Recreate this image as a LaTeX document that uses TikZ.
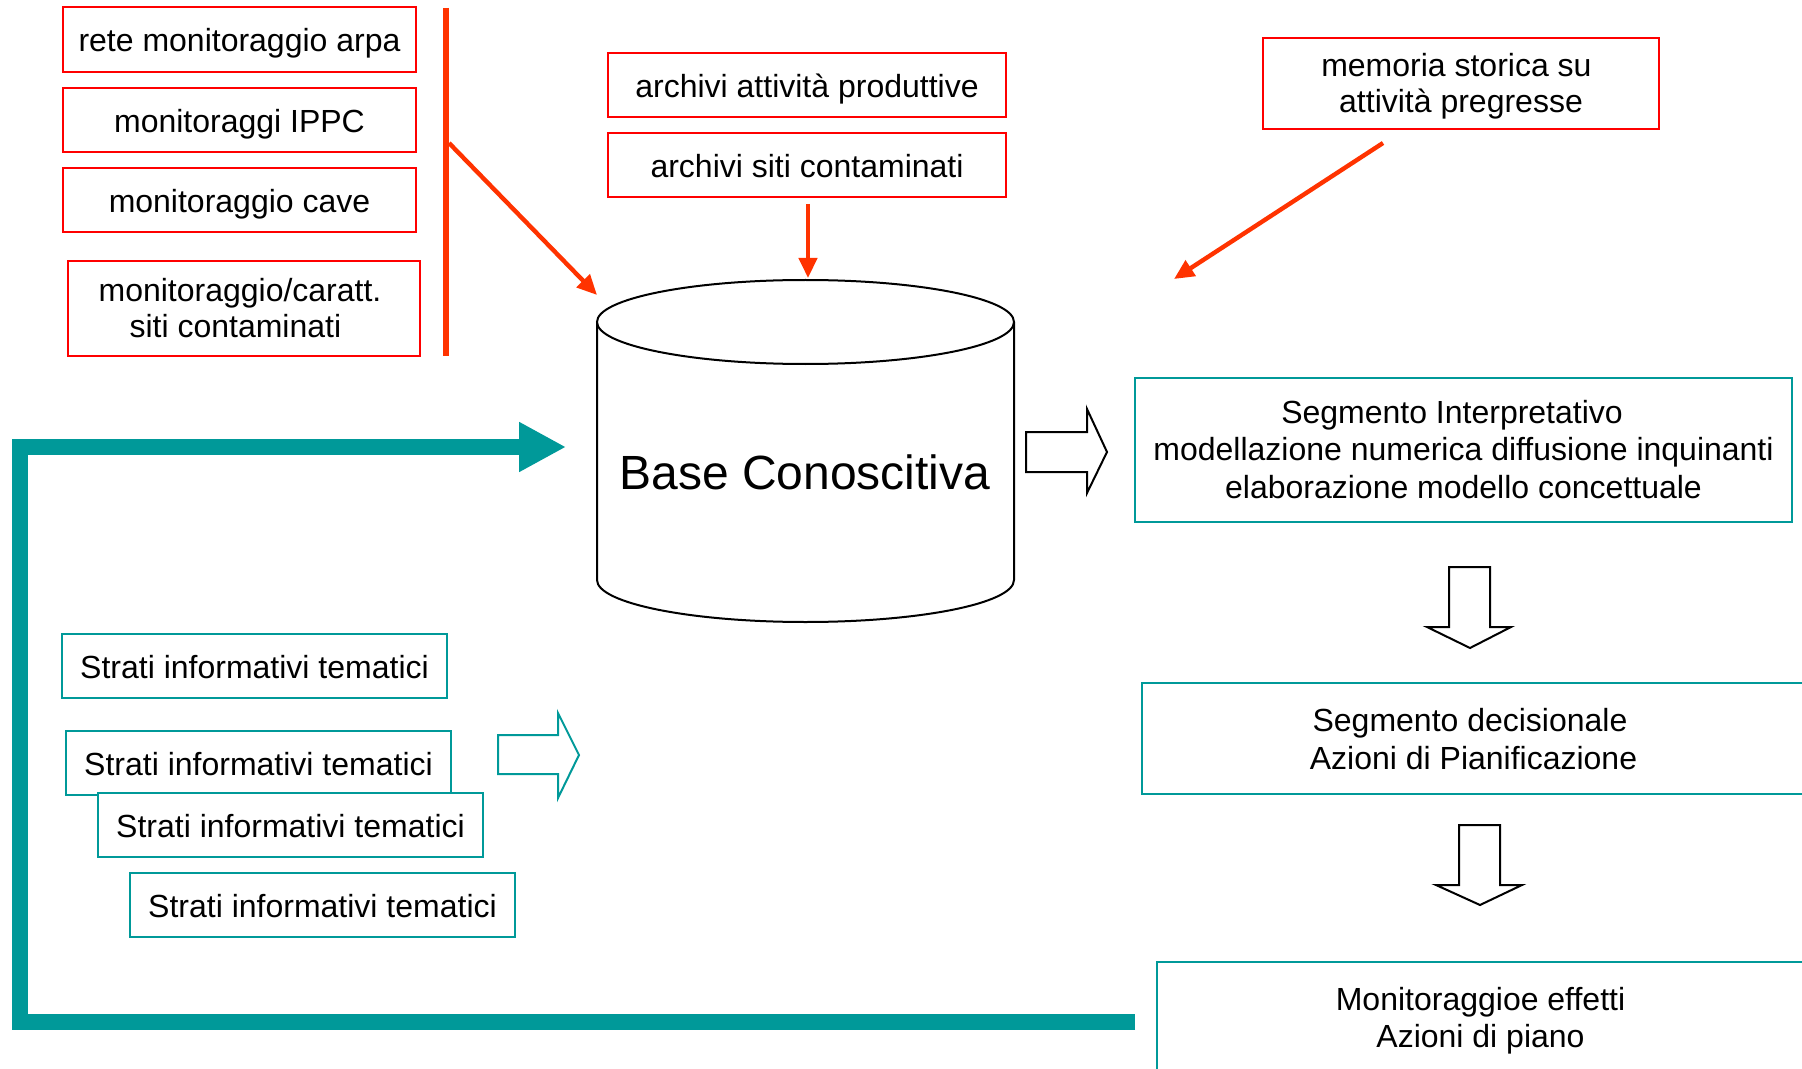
\documentclass[tikz,border=0pt]{standalone}
\usepackage{fontspec}
\setmainfont{Liberation Sans}
\usetikzlibrary{arrows.meta}
\definecolor{boxred}{HTML}{FF0000}
\definecolor{arrred}{HTML}{FF3300}
\definecolor{tealc}{HTML}{009999}
\newcommand\stackc[1]{\vbox{\halign{\hfil##\hfil\cr#1\crcr}}}
\begin{document}
\begin{tikzpicture}[x=0.5pt,y=-0.5pt,
  every node/.style={inner sep=0pt},
  redbox/.style={draw=boxred, line width=1.1pt, fill=white, font=\fontsize{16}{18.2}\selectfont, text height=12.4pt, text depth=0pt},
  tealbox/.style={draw=tealc, line width=1pt, fill=white, font=\fontsize{16}{18.8}\selectfont, text height=12.4pt, text depth=0pt},
  redline/.style={draw=arrred, line width=2.2pt},
  redarrow/.style={redline, -{Triangle[length=10pt,width=9pt]}},
  loopline/.style={draw=tealc, line width=8pt, line join=miter, -{Triangle[length=23.5pt,width=23.5pt]}},
  blockarrow/.style={draw=black, line width=1pt, fill=white, line join=miter},
  tealblock/.style={draw=tealc, line width=1pt, fill=white, line join=miter},
  cyl/.style={draw=black, line width=1pt}]
\useasboundingbox (0,0) rectangle (1802,1069);
\clip (0,0) rectangle (1802,1069);
\fill[white] (0,0) rectangle (1802,1069);

% red source boxes
\node[redbox, minimum width=176.5pt, minimum height=32.5pt] (r1) at (239.5,39.5) {rete monitoraggio arpa};
\node[redbox, minimum width=176.5pt, minimum height=32pt] (r2) at (239.5,120) {monitoraggi IPPC};
\node[redbox, minimum width=176.5pt, minimum height=32pt] (r3) at (239.5,200) {monitoraggio cave};
\node[redbox, minimum width=176pt, minimum height=47.5pt, text height=29.3pt] (r4) at (244,308.5) {\stackc{monitoraggio/caratt.\cr siti contaminati\hspace*{4.6pt}}\hspace*{4pt}};
\node[redbox, minimum width=199pt, minimum height=32pt] (a1) at (807,85) {archivi attività produttive};
\node[redbox, minimum width=199pt, minimum height=32pt] (a2) at (807,165) {archivi siti contaminati};
\node[redbox, minimum width=198pt, minimum height=45.5pt, text height=29pt] (mem) at (1461,83.5) {\stackc{memoria storica su\hspace*{4.6pt}\cr attività pregresse}};

% red bar and arrows
\coordinate (bartop) at (446,8);
\coordinate (barbot) at (446,356);
\draw[draw=arrred, line width=3pt] (bartop) -- (barbot);
\coordinate (barmid) at (449,143);
\coordinate (cylNW) at (597,295);
\draw[redarrow] (barmid) -- (cylNW);
\coordinate (a2out) at (808,204);
\coordinate (cylN) at (808,278);
\draw[redarrow] (a2out) -- (cylN);
\coordinate (memout) at (1383,143);
\coordinate (cylNE) at (1174,279);
\draw[redarrow] (memout) -- (cylNE);

% cylinder
\draw[cyl, fill=white] (597,322) -- (597,580) arc[start angle=180,end angle=360,x radius=104.25pt,y radius=21pt] -- (1014,322);
\draw[cyl, fill=white] (805.5,322) ellipse [x radius=104.25pt, y radius=21pt];
\node[font=\fontsize{24}{29}\selectfont] (base) at (805,472) {Base Conoscitiva};

% right block arrow
\draw[blockarrow] (1026,432) -- (1087,432) -- (1087,409) -- (1107,452) -- (1087,493) -- (1087,472) -- (1026,472) -- cycle;

% segment boxes
\node[tealbox, minimum width=328.5pt, minimum height=72pt, text height=48.4pt] (seg1) at (1463.5,450) {\stackc{Segmento Interpretativo\hspace*{11.5pt}\cr modellazione numerica diffusione inquinanti\cr elaborazione modello concettuale}};
\draw[blockarrow] (1449,567) -- (1490,567) -- (1490,627) -- (1511,627) -- (1470,648) -- (1427,627) -- (1449,627) -- cycle;
\node[tealbox, minimum width=331.5pt, minimum height=55.5pt, text height=30.8pt] (seg2) at (1473.5,738.5) {\stackc{Segmento decisionale\hspace*{3.5pt}\cr Azioni di Pianificazione}};
\draw[blockarrow] (1459,825) -- (1500,825) -- (1500,885) -- (1522,885) -- (1480,905) -- (1436,885) -- (1459,885) -- cycle;
\node[tealbox, minimum width=323.5pt, minimum height=56pt, text height=29.7pt] (seg3) at (1480.5,1018) {\stackc{Monitoraggioe effetti\cr Azioni di piano}};

% strati boxes
\node[tealbox, minimum width=192.5pt, minimum height=32pt] (s1) at (254.5,666) {Strati informativi tematici};
\node[tealbox, minimum width=192.5pt, minimum height=32pt] (s2) at (258.5,763) {Strati informativi tematici};
\node[tealbox, minimum width=192.5pt, minimum height=32pt] (s3) at (290.5,825) {Strati informativi tematici};
\node[tealbox, minimum width=192.5pt, minimum height=32pt] (s4) at (322.5,905) {Strati informativi tematici};
\draw[tealblock] (498,735) -- (558,735) -- (558,713) -- (579,755) -- (558,798) -- (558,774) -- (498,774) -- cycle;

% feedback loop
\coordinate (loopstart) at (1135,1022);
\coordinate (loopBL) at (20,1022);
\coordinate (loopTL) at (20,447);
\coordinate (loopend) at (566,447);
\draw[loopline] (loopstart) -- (loopBL) -- (loopTL) -- (loopend);
\end{tikzpicture}
\end{document}
